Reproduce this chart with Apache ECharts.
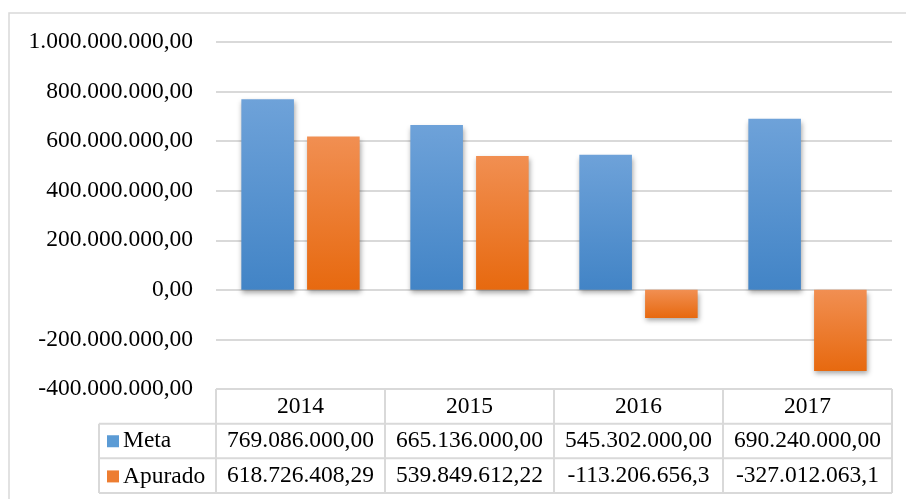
<!DOCTYPE html>
<html>
<head>
<meta charset="utf-8">
<script src="https://cdn.jsdelivr.net/npm/echarts@6/dist/echarts.min.js"></script>
<style>
html,body{margin:0;padding:0;background:#fff;}
#main{width:906px;height:499px;}
</style>
</head>
<body>
<div id="main"></div>
<script>
// ---- data ----
var categories = ['2014', '2015', '2016', '2017'];
var seriesNames = ['Meta', 'Apurado'];
var metaValues = [769086000.00, 665136000.00, 545302000.00, 690240000.00];
var apuradoValues = [618726408.29, 539849612.22, -113206656.3, -327012063.1];
var metaDecimals = [2, 2, 2, 2];
var apuradoDecimals = [2, 2, 1, 1];
var yTicks = [-400000000, -200000000, 0, 200000000, 400000000, 600000000, 800000000, 1000000000];

function fmt(v, dec) {
  var neg = v < 0;
  var a = Math.abs(v);
  var s = a.toFixed(dec);
  var parts = s.split('.');
  var intPart = parts[0].replace(/\B(?=(\d{3})+(?!\d))/g, '.');
  return (neg ? '-' : '') + intPart + (dec > 0 ? ',' + parts[1] : '');
}

var FONT = "'Liberation Serif', 'Times New Roman', serif";
var GRID_L = 216, GRID_R = 892, GRID_T = 42, GRID_B = 389;
var ROW_H = (493 - 389) / 3;
var TABLE_LEFT = 99;
var TABLE_FS = 23.5;

var chart = echarts.init(document.getElementById('main'), null, {renderer: 'canvas'});

function grad(top, bottom) {
  return new echarts.graphic.LinearGradient(0, 0, 0, 1, [
    {offset: 0, color: top}, {offset: 1, color: bottom}
  ]);
}
var blue = grad('#6ea2d9', '#4284c6');
var orange = grad('#f18f52', '#e7690f');

// table borders (layout decoration)
var lineStyle = {stroke: '#d9d9d9', lineWidth: 2};
var graphics = [];
graphics.push({type: 'rect', shape: {x: 9, y: 13, width: 905, height: 500}, style: {fill: 'none', stroke: '#d9d9d9', lineWidth: 1.5}, silent: true});
for (var r = 0; r <= 3; r++) {
  var y = GRID_B + r * ROW_H;
  graphics.push({type: 'line', shape: {x1: r === 0 ? GRID_L : TABLE_LEFT, y1: y, x2: GRID_R, y2: y}, style: lineStyle, silent: true});
}
var colW = (GRID_R - GRID_L) / categories.length;
for (var c = 0; c <= categories.length; c++) {
  var x = GRID_L + c * colW;
  graphics.push({type: 'line', shape: {x1: x, y1: GRID_B, x2: x, y2: GRID_B + 3 * ROW_H}, style: lineStyle, silent: true});
}
graphics.push({type: 'line', shape: {x1: TABLE_LEFT, y1: GRID_B + ROW_H, x2: TABLE_LEFT, y2: GRID_B + 3 * ROW_H}, style: lineStyle, silent: true});

var option = {
  backgroundColor: '#fff',
  animation: false,
  textStyle: {fontFamily: FONT},
  grid: {left: GRID_L, right: 906 - GRID_R, top: GRID_T, bottom: 499 - GRID_B, containLabel: false},
  legend: {
    orient: 'vertical',
    left: 107,
    top: GRID_B + ROW_H + ROW_H / 2 - TABLE_FS / 2,
    padding: 0,
    itemGap: ROW_H - TABLE_FS,
    itemWidth: 12,
    itemHeight: 12,
    icon: 'rect',
    selectedMode: false,
    textStyle: {fontFamily: FONT, fontSize: TABLE_FS, color: '#000', padding: [0, 0, 0, -1]},
    data: [
      {name: seriesNames[0], itemStyle: {color: '#5b9bd5'}},
      {name: seriesNames[1], itemStyle: {color: '#ed7d31'}}
    ]
  },
  xAxis: {
    type: 'category',
    data: categories,
    axisLine: {show: false},
    axisTick: {show: false},
    splitLine: {show: false},
    axisLabel: {
      margin: 0,
      interval: 0,
      formatter: function (val, idx) {
        return '{r|' + val + '}\n{r|' + fmt(metaValues[idx], metaDecimals[idx]) + '}\n{r|' + fmt(apuradoValues[idx], apuradoDecimals[idx]) + '}';
      },
      rich: {
        r: {fontFamily: FONT, fontSize: TABLE_FS, color: '#000', lineHeight: ROW_H, height: ROW_H, verticalAlign: 'middle'}
      }
    }
  },
  yAxis: {
    type: 'value',
    min: yTicks[0],
    max: yTicks[yTicks.length - 1],
    interval: 200000000,
    axisLine: {show: false},
    axisTick: {show: false},
    splitLine: {lineStyle: {color: '#d9d9d9', width: 2}},
    axisLabel: {
      margin: 23,
      fontFamily: FONT,
      fontSize: 23.5,
      color: '#000',
      formatter: function (v) { return fmt(v, 2); }
    }
  },
  series: [
    {
      name: seriesNames[0],
      type: 'bar',
      data: metaValues,
      barGap: '25%',
      barCategoryGap: '30%',
      itemStyle: {color: blue, shadowBlur: 5, shadowColor: 'rgba(0,0,0,0.35)', shadowOffsetX: 1, shadowOffsetY: 3}
    },
    {
      name: seriesNames[1],
      type: 'bar',
      data: apuradoValues,
      itemStyle: {color: orange, shadowBlur: 5, shadowColor: 'rgba(0,0,0,0.35)', shadowOffsetX: 1, shadowOffsetY: 3}
    }
  ],
  graphic: graphics
};
chart.setOption(option);
</script>
</body>
</html>
